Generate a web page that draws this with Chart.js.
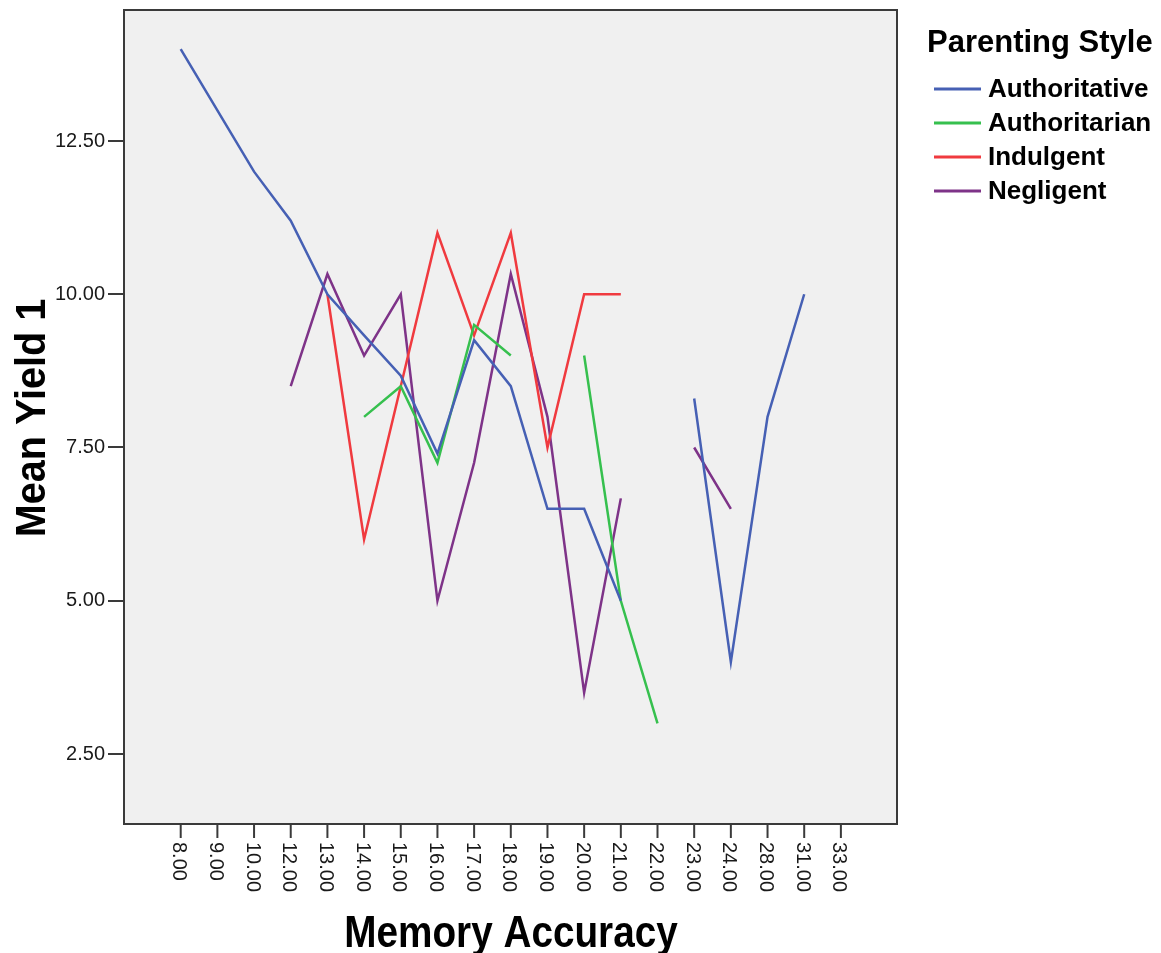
<!DOCTYPE html>
<html>
<head>
<meta charset="utf-8">
<script src="https://cdn.jsdelivr.net/npm/chart.js@4.4.1/dist/chart.umd.min.js"></script>
<style>
    body { margin: 0; background: #fff; }
    #wrap { width: 1161px; height: 953px; }
</style>
</head>
<body>
<div id="wrap"><canvas id="chart" width="1161" height="953"></canvas></div>
<script>
// Memory Accuracy categories (x axis)
const categories = ['8.00', '9.00', '10.00', '12.00', '13.00', '14.00', '15.00', '16.00', '17.00', '18.00',
    '19.00', '20.00', '21.00', '22.00', '23.00', '24.00', '28.00', '31.00', '33.00'];

// Mean Yield 1 per parenting style (null = no cases)
const authoritative = [14.0, 13.0, 12.0, 11.2, 10.0, 9.33, 8.67, 7.4, 9.25, 8.5, 6.5, 6.5, 5.0, null, 8.3, 4.0, 8.0, 10.0, null];
const authoritarian = [null, null, null, null, null, 8.0, 8.5, 7.25, 9.5, 9.0, null, 9.0, 5.0, 3.0, null, null, null, null, null];
const indulgent     = [null, null, null, null, 10.0, 6.0, 8.5, 11.0, 9.33, 11.0, 7.5, 10.0, 10.0, null, null, null, null, null, null];
const negligent     = [null, null, null, 8.5, 10.33, 9.0, 10.0, 5.0, 7.25, 10.33, 8.0, 3.5, 6.67, null, 7.5, 6.5, null, null, null];

const yTicks = [2.5, 5.0, 7.5, 10.0, 12.5];

const seriesNames = ['Authoritative', 'Authoritarian', 'Indulgent', 'Negligent'];
const seriesColors = ['#4660b4', '#36c04e', '#f03a3f', '#7e3388'];

const toPoints = arr => arr.map((v, i) => ({ x: i, y: v }));

// plot background, frame, rotated x labels, axis titles and legend
const spssLook = {
    id: 'spssLook',
    beforeDatasetsDraw(chart) {
        const { ctx, chartArea: a } = chart;
        ctx.save();
        ctx.fillStyle = '#f0f0f0';
        ctx.fillRect(a.left, a.top, a.right - a.left, a.bottom - a.top);
        ctx.restore();
    },
    afterDraw(chart) {
        const { ctx, chartArea: a } = chart;
        const xs = chart.scales.x;
        ctx.save();
        ctx.strokeStyle = '#3a3a3a';
        ctx.lineWidth = 2;
        ctx.strokeRect(a.left, a.top, a.right - a.left, a.bottom - a.top);

        // x tick marks + labels reading downward
        ctx.fillStyle = '#1a1a1a';
        ctx.font = '20px "Liberation Sans", Arial, sans-serif';
        ctx.textAlign = 'left';
        ctx.textBaseline = 'middle';
        categories.forEach((lab, i) => {
            const px = xs.getPixelForValue(i);
            ctx.beginPath();
            ctx.moveTo(px, a.bottom);
            ctx.lineTo(px, a.bottom + 14);
            ctx.stroke();
            ctx.save();
            ctx.translate(px - 2, a.bottom + 18);
            ctx.rotate(Math.PI / 2);
            ctx.fillText(lab, 0, 0);
            ctx.restore();
        });

        // axis titles
        ctx.fillStyle = '#000';
        ctx.font = 'bold 44px "Liberation Sans", Arial, sans-serif';
        ctx.textAlign = 'center';
        ctx.textBaseline = 'alphabetic';
        ctx.save();
        ctx.translate(511, 947);
        ctx.scale(0.88, 1);
        ctx.fillText('Memory Accuracy', 0, 0);
        ctx.restore();

        ctx.save();
        ctx.translate(45, 418);
        ctx.rotate(-Math.PI / 2);
        ctx.scale(0.9, 0.95);
        ctx.fillText('Mean Yield 1', 0, 0);
        ctx.restore();

        // legend
        ctx.textAlign = 'left';
        ctx.textBaseline = 'middle';
        ctx.font = 'bold 31px "Liberation Sans", Arial, sans-serif';
        ctx.fillText('Parenting Style', 927, 43);
        ctx.font = 'bold 26px "Liberation Sans", Arial, sans-serif';
        seriesNames.forEach((name, i) => {
            const y = 89 + i * 34;
            ctx.strokeStyle = seriesColors[i];
            ctx.lineWidth = 3;
            ctx.beginPath();
            ctx.moveTo(934, y);
            ctx.lineTo(981, y);
            ctx.stroke();
            ctx.fillStyle = '#000';
            ctx.fillText(name, 988, y + 1);
        });
        ctx.restore();
    }
};

new Chart(document.getElementById('chart'), {
    type: 'line',
    data: {
        datasets: seriesNames.map((name, i) => ({
            label: name,
            data: toPoints([authoritative, authoritarian, indulgent, negligent][i]),
            borderColor: seriesColors[i],
            borderWidth: 2.5,
            pointRadius: 0,
            fill: false,
            tension: 0,
            spanGaps: false
        }))
    },
    options: {
        responsive: false,
        animation: false,
        layout: { padding: { top: 10, right: 264, left: 0, bottom: 0 } },
        plugins: {
            legend: { display: false },
            tooltip: { enabled: false }
        },
        scales: {
            x: {
                type: 'linear',
                min: -1.546,
                max: 19.53,
                grid: { display: false },
                border: { display: false },
                ticks: { display: false },
                afterFit: s => { s.height = 129; s.paddingLeft = 0; s.paddingRight = 0; }
            },
            y: {
                min: 1.358,
                max: 14.637,
                afterBuildTicks: s => { s.ticks = yTicks.map(v => ({ value: v })); },
                grid: { drawOnChartArea: false, drawTicks: true, tickLength: 16, color: '#3a3a3a', lineWidth: 2 },
                border: { display: false },
                ticks: {
                    color: '#1a1a1a',
                    padding: 3,
                    font: { family: '"Liberation Sans", Arial, sans-serif', size: 20 },
                    callback: v => v.toFixed(2)
                },
                afterFit: s => { s.width = 124; s.paddingTop = 0; s.paddingBottom = 0; }
            }
        }
    },
    plugins: [spssLook]
});
</script>
</body>
</html>
